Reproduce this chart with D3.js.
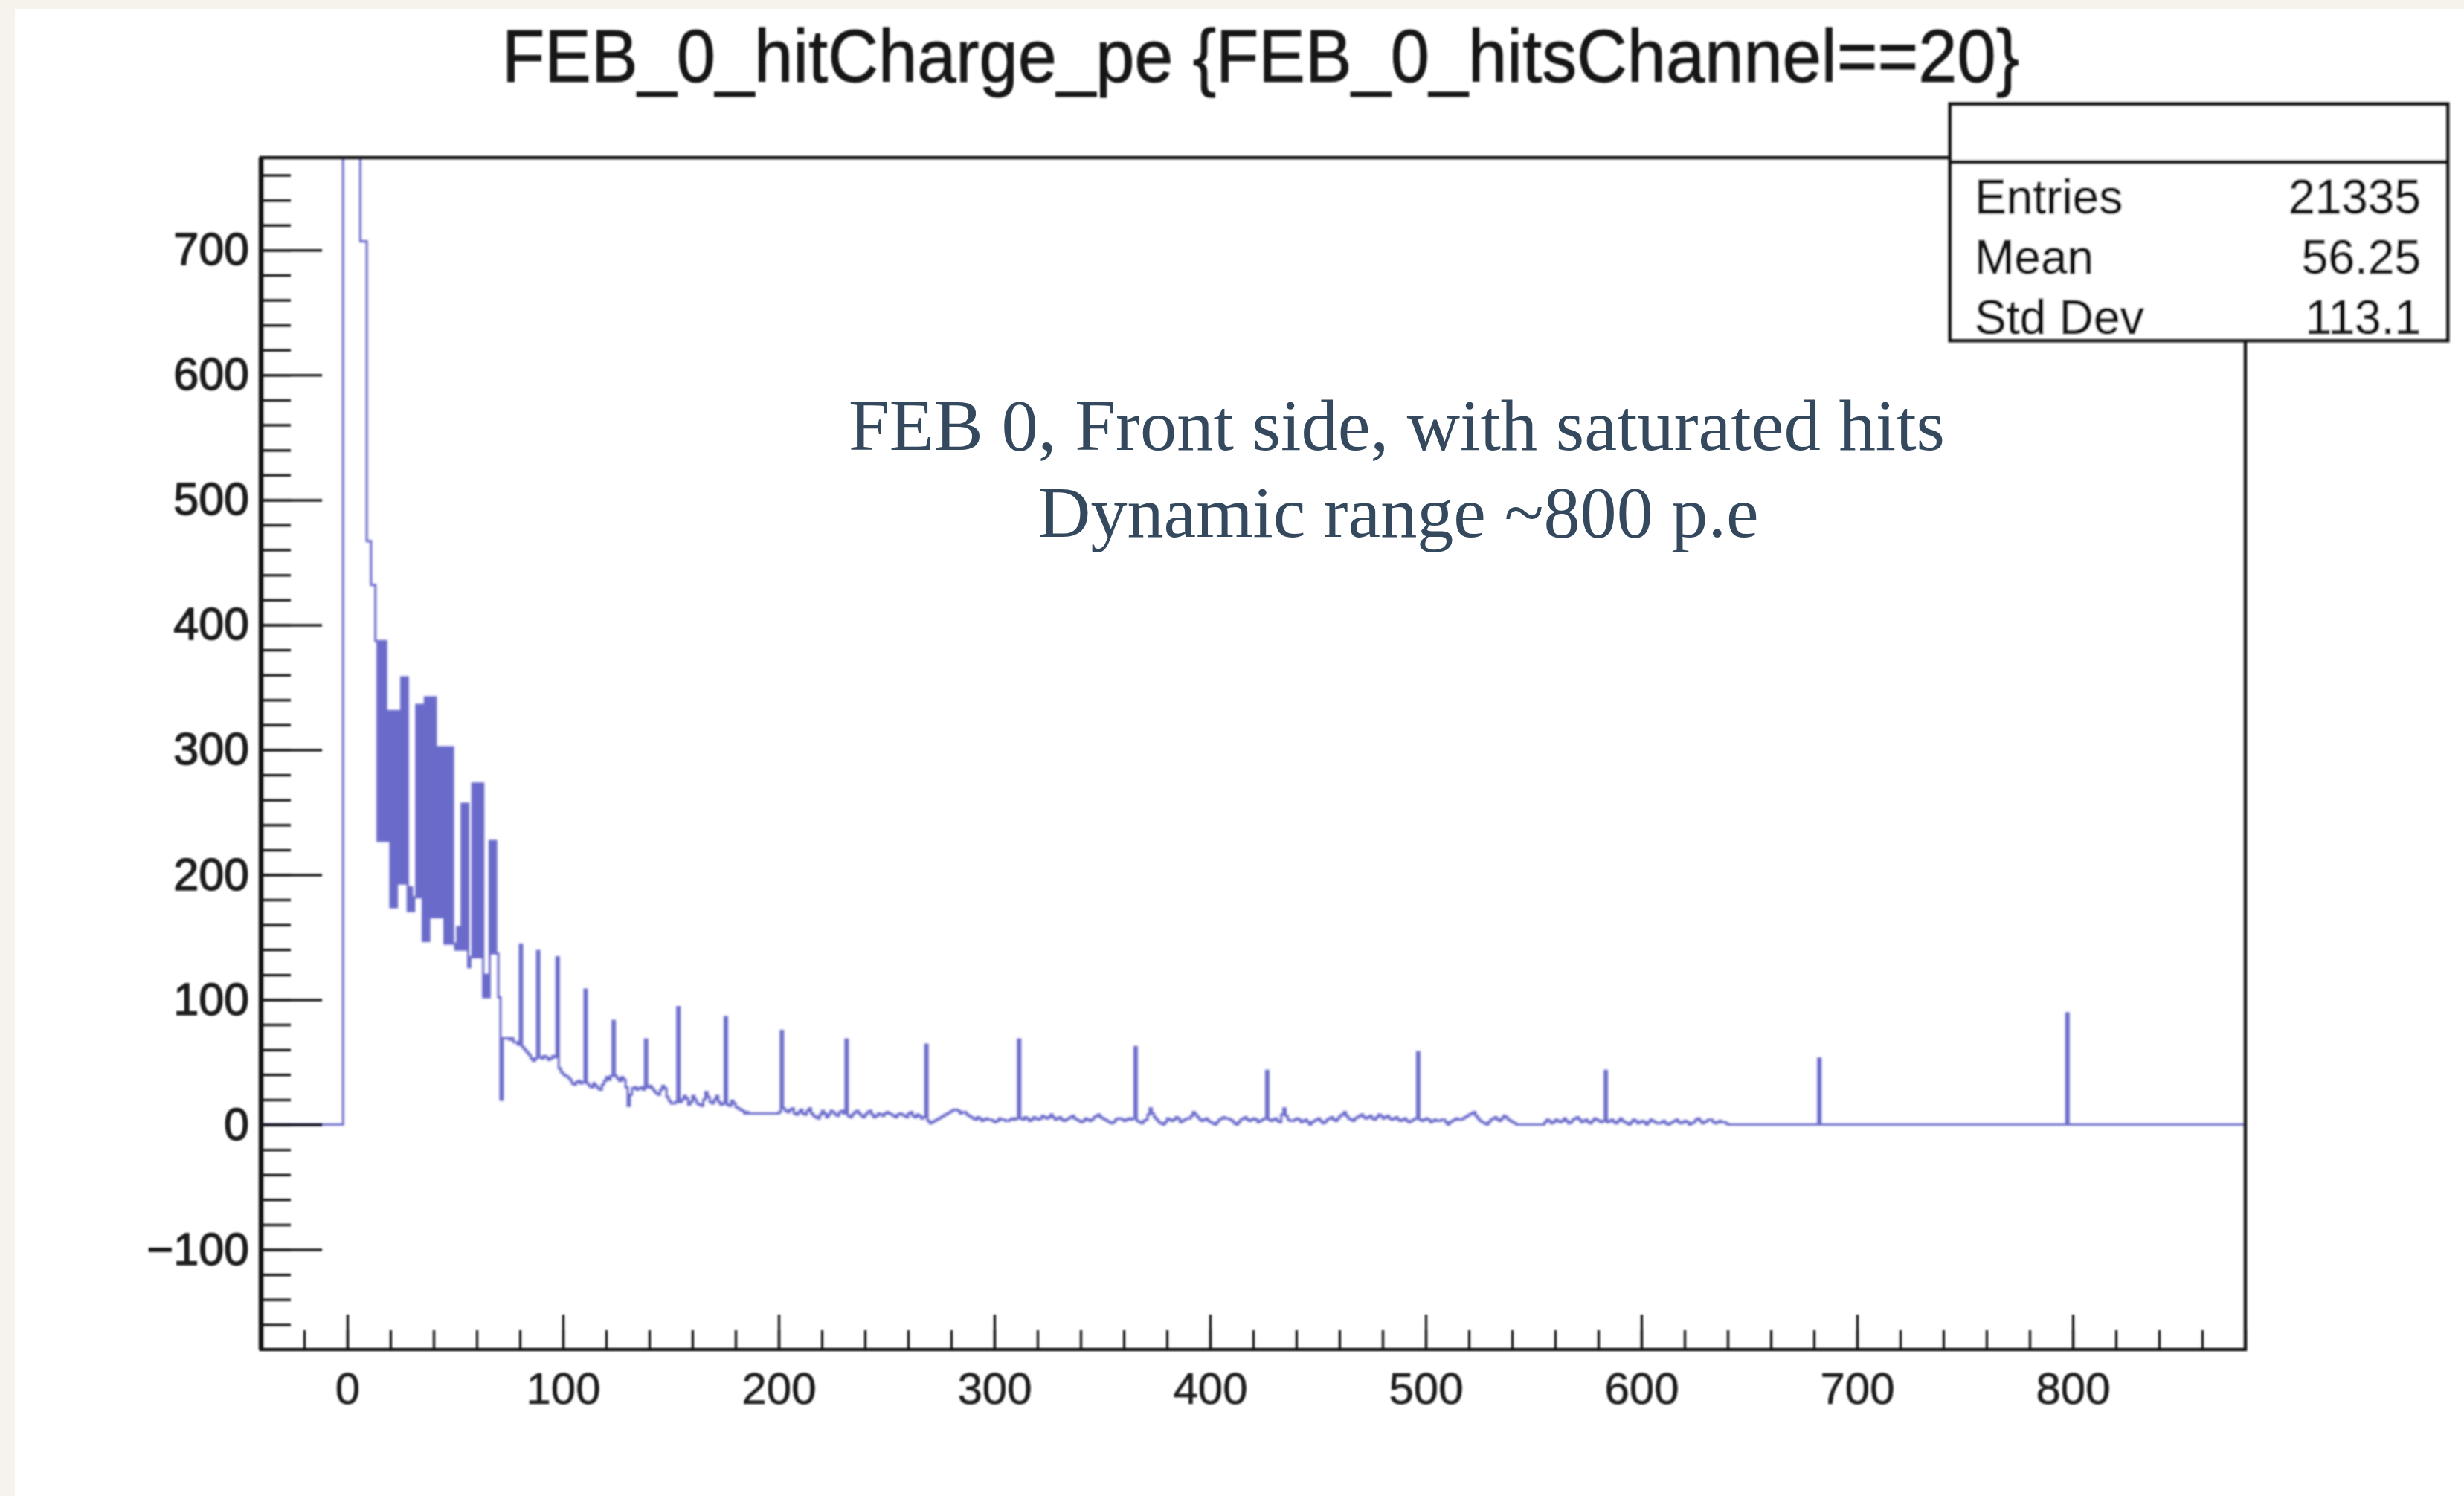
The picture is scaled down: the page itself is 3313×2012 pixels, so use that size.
<!DOCTYPE html>
<html>
<head>
<meta charset="UTF-8">
<title>FEB_0_hitCharge_pe</title>
<script src="https://cdn.jsdelivr.net/npm/d3@7/dist/d3.min.js"></script>
<style>
  body { margin: 0; background: #f6f2ec; }
  svg { display: block; }
  .tick text { font-family: "Liberation Sans", Arial, Helvetica, sans-serif; fill: #1c1c1c; }
</style>
</head>
<body>
<div id="chart"></div>
<script>
// histogram: 1 p.e. bins starting at -40 (20 bins per row)
const binStart = -40;
const binWidth = 1;
const counts = [
  0, 0, 0, 0, 0, 0, 0, 0, 0, 0, 0, 0, 0, 0, 0, 0, 0, 0, 0, 0,
  0, 0, 0, 0, 0, 0, 0, 0, 0, 0, 0, 0, 0, 0, 0, 0, 0, 0, 1200, 2100,
  2900, 2700, 2400, 2000, 1600, 1100, 707, 707, 707, 467, 467, 432, 432, 387, 227, 387, 227, 387, 227, 331,
  174, 331, 174, 331, 193, 358, 193, 358, 171, 190, 171, 182, 336, 182, 336, 147, 342, 147, 342, 166,
  342, 166, 302, 166, 302, 145, 302, 145, 302, 145, 140, 158, 140, 257, 140, 257, 126, 134, 273, 134,
  273, 134, 273, 102, 120, 102, 227, 137, 227, 137, 102, 20, 69, 69, 69, 68, 69, 66, 66, 64,
  144, 62, 60, 58, 56, 53, 51, 53, 139, 54, 53, 55, 54, 52, 53, 55, 54, 134, 45, 42,
  40, 39, 38, 36, 33, 32, 34, 35, 33, 34, 108, 33, 31, 30, 33, 31, 29, 28, 32, 35,
  38, 36, 39, 83, 39, 37, 35, 38, 36, 30, 15, 24, 29, 30, 28, 29, 30, 28, 68, 30,
  31, 29, 27, 25, 24, 28, 31, 29, 22, 19, 17, 17, 18, 94, 18, 20, 23, 21, 16, 18,
  23, 20, 17, 16, 15, 20, 26, 22, 18, 17, 20, 23, 18, 16, 17, 86, 16, 15, 19, 17,
  14, 13, 12, 11, 9, 10, 9, 9, 9, 9, 9, 9, 9, 9, 9, 9, 9, 9, 9, 9,
  10, 75, 13, 11, 10, 12, 13, 9, 8, 10, 12, 9, 8, 11, 13, 9, 7, 6, 5, 8,
  11, 9, 6, 8, 11, 10, 8, 7, 10, 11, 9, 68, 7, 6, 8, 10, 11, 9, 7, 6,
  8, 10, 11, 8, 6, 7, 9, 8, 7, 9, 10, 9, 8, 7, 6, 8, 9, 8, 7, 6,
  9, 10, 7, 6, 8, 7, 5, 6, 64, 3, 1, 2, 3, 4, 5, 6, 7, 8, 9, 10,
  11, 12, 12, 11, 9, 10, 10, 8, 7, 6, 5, 4, 6, 5, 3, 4, 5, 4, 4, 3,
  2, 3, 5, 4, 4, 3, 3, 4, 5, 4, 5, 68, 5, 4, 6, 5, 3, 4, 6, 5,
  4, 5, 7, 6, 5, 6, 8, 6, 4, 5, 6, 4, 3, 4, 5, 6, 7, 5, 4, 3,
  2, 3, 5, 4, 3, 4, 6, 7, 8, 6, 5, 4, 3, 2, 1, 2, 4, 5, 5, 4,
  3, 4, 5, 4, 5, 62, 3, 2, 1, 3, 4, 8, 13, 9, 6, 4, 2, 1, 0, 2,
  5, 4, 3, 4, 6, 5, 2, 3, 4, 5, 5, 7, 10, 8, 6, 4, 3, 4, 5, 3,
  2, 1, 0, 2, 4, 5, 6, 5, 5, 4, 3, 1, 0, 2, 4, 5, 6, 4, 3, 4,
  5, 4, 2, 3, 4, 5, 43, 4, 3, 4, 5, 3, 2, 8, 13, 7, 4, 3, 3, 4,
  5, 4, 2, 3, 4, 2, 0, 2, 3, 4, 5, 3, 1, 2, 4, 5, 6, 4, 3, 5,
  7, 8, 10, 7, 5, 4, 3, 5, 6, 7, 8, 6, 5, 6, 7, 5, 4, 6, 8, 7,
  5, 6, 7, 5, 4, 5, 6, 4, 3, 4, 5, 3, 2, 3, 4, 5, 58, 4, 3, 4,
  5, 4, 2, 3, 4, 3, 3, 4, 4, 2, 0, 2, 3, 4, 5, 4, 4, 5, 6, 7,
  8, 9, 10, 7, 5, 3, 2, 1, 0, 2, 4, 5, 6, 4, 3, 5, 7, 6, 4, 3,
  2, 1, 0, 0, 0, 0, 0, 0, 0, 0, 0, 0, 0, 0, 0, 2, 4, 3, 1, 2,
  4, 3, 2, 3, 5, 3, 1, 2, 4, 5, 6, 4, 2, 3, 4, 2, 1, 3, 5, 4,
  3, 2, 3, 43, 2, 3, 4, 2, 1, 3, 5, 3, 2, 1, 0, 2, 4, 3, 1, 2,
  3, 2, 0, 2, 4, 3, 2, 1, 1, 2, 3, 1, 0, 1, 2, 3, 4, 2, 1, 2,
  3, 2, 0, 1, 2, 4, 5, 3, 1, 2, 3, 4, 4, 2, 1, 2, 3, 2, 2, 1,
  0, 0, 0, 0, 0, 0, 0, 0, 0, 0, 0, 0, 0, 0, 0, 0, 0, 0, 0, 0,
  0, 0, 0, 0, 0, 0, 0, 0, 0, 0, 0, 0, 0, 0, 0, 0, 0, 0, 0, 0,
  0, 0, 53, 0, 0, 0, 0, 0, 0, 0, 0, 0, 0, 0, 0, 0, 0, 0, 0, 0,
  0, 0, 0, 0, 0, 0, 0, 0, 0, 0, 0, 0, 0, 0, 0, 0, 0, 0, 0, 0,
  0, 0, 0, 0, 0, 0, 0, 0, 0, 0, 0, 0, 0, 0, 0, 0, 0, 0, 0, 0,
  0, 0, 0, 0, 0, 0, 0, 0, 0, 0, 0, 0, 0, 0, 0, 0, 0, 0, 0, 0,
  0, 0, 0, 0, 0, 0, 0, 0, 0, 0, 0, 0, 0, 0, 0, 0, 0, 0, 0, 0,
  0, 0, 0, 0, 0, 0, 0, 0, 0, 0, 0, 0, 0, 0, 0, 0, 0, 89, 0, 0,
  0, 0, 0, 0, 0, 0, 0, 0, 0, 0, 0, 0, 0, 0, 0, 0, 0, 0, 0, 0,
  0, 0, 0, 0, 0, 0, 0, 0, 0, 0, 0, 0, 0, 0, 0, 0, 0, 0, 0, 0,
  0, 0, 0, 0, 0, 0, 0, 0, 0, 0, 0, 0, 0, 0, 0, 0, 0, 0, 0, 0,
  0, 0, 0, 0, 0, 0, 0, 0, 0, 0, 0, 0, 0, 0, 0, 0, 0, 0, 0, 0
];

const xDomain = [-40, 880];
const yDomain = [-180, 774];
const xTickValues = [0, 100, 200, 300, 400, 500, 600, 700, 800];
const yTickValues = [-100, 0, 100, 200, 300, 400, 500, 600, 700];

const titleText = "FEB_0_hitCharge_pe {FEB_0_hitsChannel==20}";
const statNames = ["Entries", "Mean", "Std Dev"];
const statValues = ["21335", "56.25", "113.1"];
const noteLines = ["FEB 0, Front side, with saturated hits", "Dynamic range ~800 p.e"];

const W = 3313, H = 2012;
const frame = { left: 351, right: 3019, top: 212, bottom: 1815 };
const lineColor = "#6a6acb";
const inkColor = "#151515";

const svg = d3.select("#chart").append("svg")
  .attr("width", W).attr("height", H);

const defs = svg.append("defs");
// the reference is a soft, upscaled screenshot
defs.append("filter").attr("id", "soft")
  .attr("filterUnits", "userSpaceOnUse")
  .attr("x", 0).attr("y", 0).attr("width", W).attr("height", H)
  .append("feGaussianBlur").attr("stdDeviation", 1.8);
defs.append("filter").attr("id", "softInk")
  .attr("filterUnits", "userSpaceOnUse")
  .attr("x", 0).attr("y", 0).attr("width", W).attr("height", H)
  .append("feGaussianBlur").attr("stdDeviation", 0.9);

defs.append("clipPath").attr("id", "frameClip")
  .append("rect")
  .attr("x", frame.left).attr("y", frame.top)
  .attr("width", frame.right - frame.left).attr("height", frame.bottom - frame.top);

// white slide area
svg.append("rect").attr("x", 20).attr("y", 12)
  .attr("width", W - 20).attr("height", H - 12).attr("fill", "#fff");

const x = d3.scaleLinear().domain(xDomain).range([frame.left, frame.right]);
const y = d3.scaleLinear().domain(yDomain).range([frame.bottom, frame.top]);

// histogram outline (step)
const pts = counts.map((c, i) => [binStart + i * binWidth, c]);
pts.push([binStart + counts.length * binWidth, counts[counts.length - 1]]);

const step = d3.line()
  .x(d => x(d[0]))
  .y(d => y(d[1]))
  .curve(d3.curveStepAfter);

svg.append("g").attr("clip-path", "url(#frameClip)")
  .append("path")
  .attr("d", step(pts))
  .attr("fill", "none")
  .attr("stroke", lineColor)
  .attr("stroke-width", 3)
  .attr("filter", "url(#soft)");

const ink = svg.append("g").attr("filter", "url(#softInk)");

// minor ticks
const yMinor = d3.range(-160, 774, 20);
const xMinor = d3.range(-40, 881, 20);

const yMinorAxis = ink.append("g")
  .attr("transform", `translate(${frame.left},0)`)
  .call(d3.axisLeft(y).tickValues(yMinor).tickSizeInner(-40).tickSizeOuter(0).tickFormat(""));
const xMinorAxis = ink.append("g")
  .attr("transform", `translate(0,${frame.bottom})`)
  .call(d3.axisBottom(x).tickValues(xMinor).tickSizeInner(-26).tickSizeOuter(0).tickFormat(""));

// major ticks + labels
const yAxis = ink.append("g")
  .attr("transform", `translate(${frame.left},0)`)
  .call(d3.axisLeft(y).tickValues(yTickValues).tickSizeInner(-82).tickSizeOuter(0)
    .tickPadding(16).tickFormat(d => d < 0 ? "\u2212" + Math.abs(d) : String(d)));
const xAxis = ink.append("g")
  .attr("transform", `translate(0,${frame.bottom})`)
  .call(d3.axisBottom(x).tickValues(xTickValues).tickSizeInner(-47).tickSizeOuter(0)
    .tickPadding(30));

[yMinorAxis, xMinorAxis, yAxis, xAxis].forEach(g => {
  g.select(".domain").remove();
  g.selectAll(".tick line").attr("stroke", "#222").attr("stroke-width", 3.5);
});
yAxis.selectAll(".tick text").attr("font-size", 61)
  .attr("stroke", inkColor).attr("stroke-width", 1.4);
xAxis.selectAll(".tick text").attr("font-size", 60)
  .attr("stroke", inkColor).attr("stroke-width", 0.6);

// frame (left axis drawn a bit heavier)
ink.append("rect")
  .attr("x", frame.left).attr("y", frame.top)
  .attr("width", frame.right - frame.left).attr("height", frame.bottom - frame.top)
  .attr("fill", "none").attr("stroke", inkColor).attr("stroke-width", 4.5);
ink.append("line")
  .attr("x1", frame.left).attr("x2", frame.left)
  .attr("y1", frame.top).attr("y2", frame.bottom)
  .attr("stroke", inkColor).attr("stroke-width", 6.5);

// title
ink.append("text")
  .attr("x", 1695).attr("y", 110)
  .attr("text-anchor", "middle")
  .attr("font-family", "'Liberation Sans', Arial, Helvetica, sans-serif")
  .attr("font-size", 100)
  .attr("textLength", 2040).attr("lengthAdjust", "spacingAndGlyphs")
  .attr("fill", inkColor).attr("stroke", inkColor).attr("stroke-width", 1)
  .text(titleText);

// stats box
const box = { x: 2622, y: 140, w: 669, h: 318, head: 78 };
ink.append("rect")
  .attr("x", box.x).attr("y", box.y).attr("width", box.w).attr("height", box.h)
  .attr("fill", "#fff").attr("stroke", inkColor).attr("stroke-width", 5);
ink.append("line")
  .attr("x1", box.x).attr("x2", box.x + box.w)
  .attr("y1", box.y + box.head).attr("y2", box.y + box.head)
  .attr("stroke", inkColor).attr("stroke-width", 5);

const statRows = ink.append("g")
  .attr("font-family", "'Liberation Sans', Arial, Helvetica, sans-serif")
  .attr("font-size", 64).attr("fill", inkColor)
  .attr("stroke", inkColor).attr("stroke-width", 0.8);
statNames.forEach((n, i) => {
  const by = 287 + i * 81;
  statRows.append("text").attr("x", box.x + 33).attr("y", by).text(n);
  statRows.append("text").attr("x", box.x + box.w - 36).attr("y", by)
    .attr("text-anchor", "end").text(statValues[i]);
});

// annotation
const notes = svg.append("g")
  .attr("font-family", "'Liberation Serif', 'Times New Roman', serif")
  .attr("font-size", 98).attr("fill", "#34495e")
  .attr("text-anchor", "middle");
notes.append("text").attr("x", 1878).attr("y", 605)
  .attr("textLength", 1474).attr("lengthAdjust", "spacingAndGlyphs")
  .text(noteLines[0]);
notes.append("text").attr("x", 1880).attr("y", 722)
  .attr("textLength", 969).attr("lengthAdjust", "spacingAndGlyphs")
  .text(noteLines[1]);
</script>
</body>
</html>
